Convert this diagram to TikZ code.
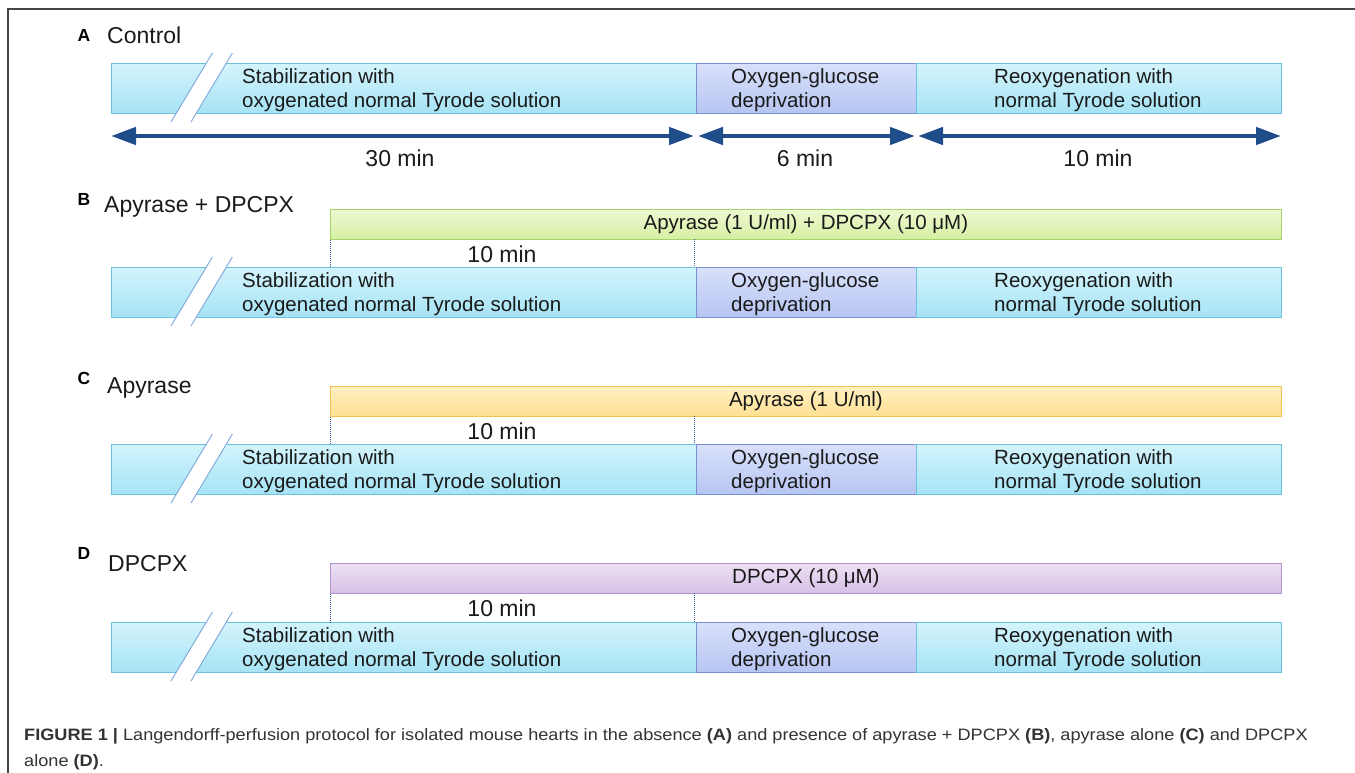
\documentclass[tikz,border=0pt]{standalone}
\usepackage{fontspec}
\setmainfont{Liberation Sans}
\newfontfamily\capfont[FakeStretch=1.1]{Liberation Sans}
\usetikzlibrary{arrows.meta}
\definecolor{stabtop}{HTML}{D3F4FC}
\definecolor{stabbot}{HTML}{A6E3F5}
\definecolor{stabline}{HTML}{6CC2DC}
\definecolor{ogdtop}{HTML}{D8E0FA}
\definecolor{ogdbot}{HTML}{B6C5F2}
\definecolor{ogdline}{HTML}{7890D2}
\definecolor{greentop}{HTML}{EEF9D2}
\definecolor{greenbot}{HTML}{D6EFA2}
\definecolor{greenline}{HTML}{A6D46A}
\definecolor{orangetop}{HTML}{FFF0C2}
\definecolor{orangebot}{HTML}{FFE092}
\definecolor{orangeline}{HTML}{F1C151}
\definecolor{purpletop}{HTML}{EDE1F4}
\definecolor{purplebot}{HTML}{D6C0E6}
\definecolor{purpleline}{HTML}{B293CB}
\definecolor{arrowblue}{HTML}{1F4D89}
\definecolor{breakblue}{HTML}{7BA6DE}
\definecolor{dotblue}{HTML}{3A5A9A}
\definecolor{txtcol}{HTML}{1A1A1A}
\definecolor{framecol}{HTML}{444444}
\definecolor{capcol}{HTML}{333333}
\newcommand\protorow[2]{%
  \node[stabbox, minimum width=585pt, anchor=north west] (stab#1) at (111,#2) {};
  \node[ogdbox, minimum width=220pt, anchor=north west] (ogd#1) at (696,#2) {};
  \node[stabbox, minimum width=365pt, anchor=north west] (reox#1) at (916,#2) {};
  \fill[white] (207,#2-1) -- (227,#2-1) -- (195.8,#2+51) -- (175.8,#2+51) -- cycle;
  \draw[breakline] (212.4,#2-10) -- (171,#2+59);
  \draw[breakline] (232.4,#2-10) -- (191,#2+59);
  \node[boxtxt] (stabtxt#1) at (242,#2+27) {Stabilization with\\oxygenated normal Tyrode solution};
  \node[boxtxt] (ogdtxt#1) at (731,#2+27) {Oxygen-glucose\\deprivation};
  \node[boxtxt] (reoxtxt#1) at (994,#2+27) {Reoxygenation with\\normal Tyrode solution};
}
\newcommand\drugrow[4]{%
  \node[drugbar, #3, minimum width=951pt, anchor=north west] (bar#1) at (330,#2) {\raisebox{-1.5pt}{#4}};
  \coordinate (dl#1) at (bar#1.south west);
  \coordinate (dr#1) at (694,#2+30);
  \draw[dotline] (dl#1) -- (dl#1 |- stab#1.north);
  \draw[dotline] (dr#1) -- (dr#1 |- stab#1.north);
  \node[timetxt] (ten#1) at (502,#2+45) {10 min};
}
\begin{document}
\begin{tikzpicture}[x=1pt,y=-1pt,
  stabbox/.style={draw=stabline, top color=stabtop, bottom color=stabbot, minimum height=50pt, inner sep=0pt, line width=0.8pt},
  ogdbox/.style={draw=ogdline, top color=ogdtop, bottom color=ogdbot, minimum height=50pt, inner sep=0pt, line width=0.8pt},
  drugbar/.style={minimum height=30pt, inner sep=0pt, line width=0.8pt, text=txtcol, font=\fontsize{20.5}{24}\selectfont},
  greenbar/.style={draw=greenline, top color=greentop, bottom color=greenbot},
  orangebar/.style={draw=orangeline, top color=orangetop, bottom color=orangebot},
  purplebar/.style={draw=purpleline, top color=purpletop, bottom color=purplebot},
  breakline/.style={draw=breakblue, line width=0.9pt},
  boxtxt/.style={anchor=west, align=left, inner sep=0pt, text=txtcol, font=\fontsize{20.5}{24}\selectfont},
  timetxt/.style={inner sep=0pt, text=txtcol, font=\fontsize{23}{26}\selectfont},
  titletxt/.style={anchor=west, inner sep=0pt, text=txtcol, font=\fontsize{23}{26}\selectfont},
  lettertxt/.style={inner sep=0pt, text=black, font=\fontsize{17.5}{20}\selectfont\bfseries},
  dotline/.style={draw=dotblue, line width=1pt, dash pattern=on 1pt off 1pt},
  timearrow/.style={draw=arrowblue, line width=4.5pt, {Triangle[length=25pt,width=17pt]}-{Triangle[length=25pt,width=17pt]}},
  captxt/.style={anchor=base west, inner sep=0pt, text=capcol, font=\capfont\fontsize{16.5}{20}\selectfont}
]
\useasboundingbox (0,0) rectangle (1355,773);
\draw[framecol, line width=1.2pt] (1355,9) -- (8,9) -- (8,773);

% Panel A
\node[lettertxt] (letA) at (84,35) {A};
\node[titletxt] (titA) at (107,35) {Control};
\protorow{A}{63}
\coordinate (t0) at (111,136);
\coordinate (t1) at (694,136);
\coordinate (t2) at (698,136);
\coordinate (t3) at (915,136);
\coordinate (t4) at (918,136);
\coordinate (t5) at (1281,136);
\draw[timearrow] (t0) -- (t1);
\draw[timearrow] (t2) -- (t3);
\draw[timearrow] (t4) -- (t5);
\node[timetxt] (m30) at (400,158) {30 min};
\node[timetxt] (m6) at (805,158) {6 min};
\node[timetxt] (m10) at (1098,158) {10 min};

% Panel B
\node[lettertxt] (letB) at (84,199) {B};
\node[titletxt] (titB) at (104,207) {Apyrase + DPCPX};
\protorow{B}{267}
\drugrow{B}{209}{greenbar}{Apyrase (1 U/ml) + DPCPX (10 μM)}

% Panel C
\node[lettertxt] (letC) at (84,378) {C};
\node[titletxt] (titC) at (107,388) {Apyrase};
\protorow{C}{444}
\drugrow{C}{386}{orangebar}{Apyrase (1 U/ml)}

% Panel D
\node[lettertxt] (letD) at (84,553) {D};
\node[titletxt] (titD) at (108,564) {DPCPX};
\protorow{D}{622}
\drugrow{D}{563}{purplebar}{DPCPX (10 μM)}

% Caption
\node[captxt] (cap1) at (24,740) {\textbf{FIGURE 1 |} Langendorff-perfusion protocol for isolated mouse hearts in the absence \textbf{(A)} and presence of apyrase + DPCPX \textbf{(B)}, apyrase alone \textbf{(C)} and DPCPX};
\node[captxt] (cap2) at (24,766) {alone \textbf{(D)}.};
\end{tikzpicture}
\end{document}
